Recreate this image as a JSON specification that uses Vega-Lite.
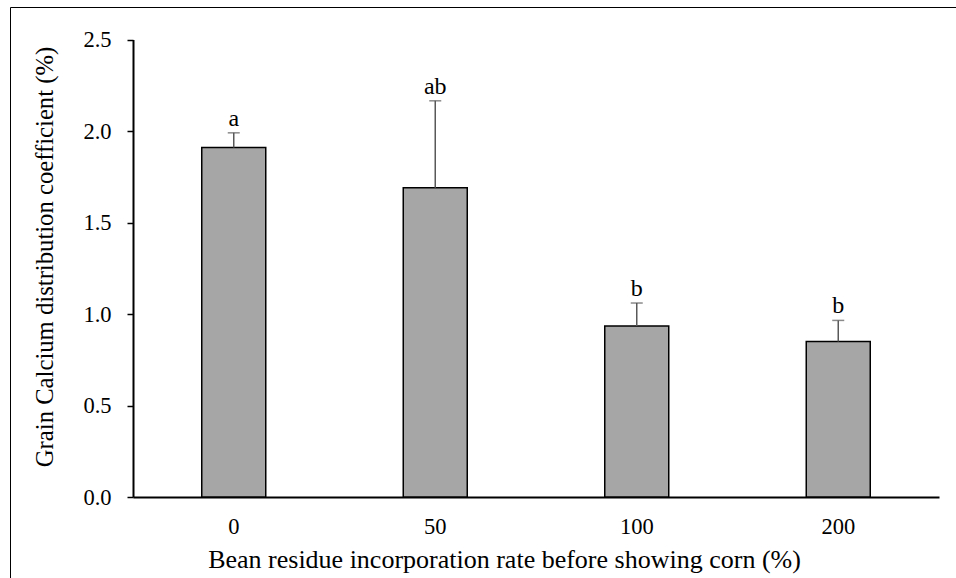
{
  "$schema": "https://vega.github.io/schema/vega-lite/v6.json",
  "width": 948,
  "height": 573,
  "autosize": {"type": "none"},
  "padding": {"left": 10, "top": 7, "right": -2, "bottom": -2},
  "background": "white",
  "config": {
    "view": {"stroke": "black", "strokeWidth": 1},
    "font": "Liberation Serif",
    "axis": {"labelFont": "Liberation Serif", "titleFont": "Liberation Serif"},
    "text": {"font": "Liberation Serif"}
  },
  "data": {
    "values": [
      {"rate": "0", "mean": 1.91, "hi": 1.99, "letter": "a"},
      {"rate": "50", "mean": 1.69, "hi": 2.165, "letter": "ab"},
      {"rate": "100", "mean": 0.935, "hi": 1.06, "letter": "b"},
      {"rate": "200", "mean": 0.85, "hi": 0.965, "letter": "b"}
    ]
  },
  "encoding": {
    "x": {
      "field": "rate",
      "type": "nominal",
      "sort": ["0", "50", "100", "200"],
      "scale": {"range": [123, 929], "paddingInner": 0, "paddingOuter": 0},
      "axis": {
        "orient": "bottom",
        "offset": -83,
        "title": "Bean residue incorporation rate before showing corn (%)",
        "domainColor": "black",
        "domainWidth": 2,
        "ticks": false,
        "tickSize": 0,
        "labelAngle": 0,
        "labelPadding": 18,
        "labelFontSize": 22.5,
        "labelColor": "black",
        "labelFont": "Liberation Serif",
        "titleFont": "Liberation Serif",
        "titleFontSize": 26,
        "titleFontWeight": "normal",
        "titleColor": "black",
        "titleX": 494,
        "titleY": 70,
        "titleAlign": "center",
        "titleBaseline": "alphabetic",
        "grid": false
      }
    }
  },
  "layer": [
    {
      "mark": {"type": "bar", "width": 64, "color": "#A6A6A6", "stroke": "black", "strokeWidth": 1.5},
      "encoding": {
        "y": {
          "field": "mean",
          "type": "quantitative",
          "title": "Grain Calcium distribution coefficient (%)",
          "scale": {"domain": [0, 2.5], "range": [490, 32.5], "nice": false, "zero": false},
          "axis": {
            "orient": "left", "offset": -123, "values": [0, 0.5, 1, 1.5, 2, 2.5], "format": ".1f",
            "domainColor": "black", "domainWidth": 2, "tickColor": "black", "tickWidth": 1.5, "tickSize": 6,
            "labelPadding": 16, "labelFontSize": 22.5, "labelColor": "black", "labelFont": "Liberation Serif",
            "titleFont": "Liberation Serif", "titleFontSize": 24.7, "titleFontWeight": "normal", "titleColor": "black",
            "titleX": -76, "titleY": 249.5, "titleAlign": "center", "titleBaseline": "bottom", "grid": false
          }
        }
      }
    },
    {
      "mark": {"type": "rule", "color": "#595959", "strokeWidth": 1.5},
      "encoding": {
        "y": {
          "field": "mean", "type": "quantitative", "title": "Grain Calcium distribution coefficient (%)",
          "axis": {
            "orient": "left", "offset": -123, "values": [0, 0.5, 1, 1.5, 2, 2.5], "format": ".1f",
            "domainColor": "black", "domainWidth": 2, "tickColor": "black", "tickWidth": 1.5, "tickSize": 6,
            "labelPadding": 16, "labelFontSize": 22.5, "labelColor": "black", "labelFont": "Liberation Serif",
            "titleFont": "Liberation Serif", "titleFontSize": 24.7, "titleFontWeight": "normal", "titleColor": "black",
            "titleX": -76, "titleY": 249.5, "titleAlign": "center", "titleBaseline": "bottom", "grid": false
          }
        },
        "y2": {"field": "hi"}
      }
    },
    {
      "mark": {"type": "tick", "orient": "horizontal", "size": 12, "thickness": 1.5, "color": "#595959"},
      "encoding": {
        "y": {
          "field": "hi", "type": "quantitative", "title": "Grain Calcium distribution coefficient (%)",
          "axis": {
            "orient": "left", "offset": -123, "values": [0, 0.5, 1, 1.5, 2, 2.5], "format": ".1f",
            "domainColor": "black", "domainWidth": 2, "tickColor": "black", "tickWidth": 1.5, "tickSize": 6,
            "labelPadding": 16, "labelFontSize": 22.5, "labelColor": "black", "labelFont": "Liberation Serif",
            "titleFont": "Liberation Serif", "titleFontSize": 24.7, "titleFontWeight": "normal", "titleColor": "black",
            "titleX": -76, "titleY": 249.5, "titleAlign": "center", "titleBaseline": "bottom", "grid": false
          }
        }
      }
    },
    {
      "mark": {"type": "text", "baseline": "alphabetic", "dy": -7, "fontSize": 24, "color": "black", "font": "Liberation Serif"},
      "encoding": {
        "y": {
          "field": "hi", "type": "quantitative", "title": "Grain Calcium distribution coefficient (%)",
          "axis": {
            "orient": "left", "offset": -123, "values": [0, 0.5, 1, 1.5, 2, 2.5], "format": ".1f",
            "domainColor": "black", "domainWidth": 2, "tickColor": "black", "tickWidth": 1.5, "tickSize": 6,
            "labelPadding": 16, "labelFontSize": 22.5, "labelColor": "black", "labelFont": "Liberation Serif",
            "titleFont": "Liberation Serif", "titleFontSize": 24.7, "titleFontWeight": "normal", "titleColor": "black",
            "titleX": -76, "titleY": 249.5, "titleAlign": "center", "titleBaseline": "bottom", "grid": false
          }
        },
        "text": {"field": "letter"}
      }
    }
  ]
}
